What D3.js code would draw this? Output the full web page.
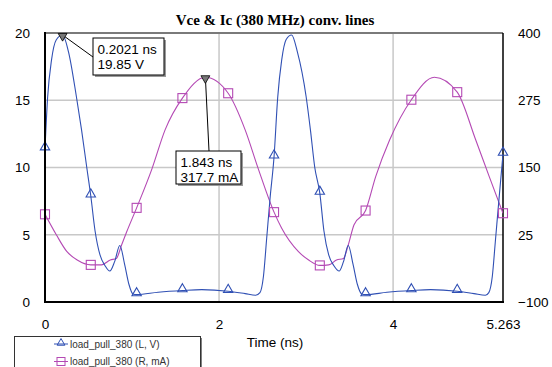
<!DOCTYPE html>
<html><head><meta charset="utf-8">
<script src="https://cdn.jsdelivr.net/npm/d3@7"></script>
<style>body{margin:0;background:#fff}svg{display:block}</style>
</head><body><svg id="c" width="552" height="367"></svg>
<script>
// ---- data ----
const title = "Vce & Ic (380 MHz) conv. lines";
const xTicks = [0, 2, 4, 5.263];
const leftTicks = [0, 5, 10, 15, 20];
const rightTicks = [-100, 25, 150, 275, 400];
const vceT = [0,0.03,0.075,0.13,0.2021,0.27,0.36,0.42,0.48,0.526,0.575,0.632,0.69,0.745,0.80,0.86,0.915,0.965,1.01,1.053,1.30,1.579,1.80,2.105,2.30,2.42,2.47,2.51,2.547,2.586,2.632,2.674,2.72,2.77,2.834,2.90,3.00,3.05,3.10,3.158,3.205,3.26,3.32,3.38,3.43,3.485,3.54,3.59,3.64,3.684,3.93,4.21,4.43,4.737,4.93,5.06,5.10,5.14,5.175,5.215,5.263];
const vceV = [11.4,15.2,18.0,19.5,19.85,18.6,15.3,12.8,10.0,7.9,5.3,3.5,2.7,2.3,3.0,4.2,2.8,1.3,0.6,0.55,0.72,0.85,0.92,0.8,0.62,0.5,0.7,1.9,4.7,7.7,10.8,15.2,18.0,19.5,19.85,18.6,15.3,12.8,10.0,8.1,5.3,3.5,2.7,2.3,3.0,4.2,2.8,1.3,0.6,0.55,0.72,0.85,0.92,0.8,0.62,0.5,0.7,1.9,4.5,7.5,11.0];
const vceMarkT = [0,0.526,1.053,1.579,2.105,2.632,3.158,3.684,4.21,4.737,5.263];
const vceMarkV = [11.4,7.9,0.55,0.85,0.8,10.8,8.1,0.55,0.85,0.8,11.0];
const icT = [0,0.13,0.25,0.37,0.526,0.65,0.75,0.82,0.88,0.94,1.053,1.23,1.38,1.579,1.843,2.105,2.30,2.45,2.632,2.72,2.91,3.03,3.158,3.26,3.35,3.43,3.485,3.55,3.684,3.80,3.96,4.21,4.475,4.737,4.95,5.105,5.263];
const icI = [63,25,-6,-22,-31,-31,-22,-19,6,31,75,148,220,279,317.7,288,220,148,67,37,-6,-22,-32,-31,-22,-19,6,43,70,133,201,276,317.7,290,201,133,65];
const icMarkT = [0,0.526,1.053,1.579,2.105,2.632,3.158,3.684,4.21,4.737,5.263];
const icMarkI = [63,-31,75,279,288,67,-32,70,276,290,65];
const annoV = {t:0.2021, v:19.85, lines:["0.2021 ns","19.85 V"]};
const annoI = {t:1.843, v:317.7, lines:["1.843 ns","317.7 mA"]};
const legendLabels = ["load_pull_380 (L, V)", "load_pull_380 (R, mA)"];
const xLabel = "Time (ns)";

// ---- layout ----
const svg = d3.select("#c");
const L=45, R=503, T=33, B=302;
const blue="#3050b4", pink="#b449b4";
const x = d3.scaleLinear().domain([0,5.263]).range([L,R]);
const yL = d3.scaleLinear().domain([0,20]).range([B,T]);
const yR = d3.scaleLinear().domain([-100,400]).range([B,T]);
const font = "Arial, 'Liberation Sans', sans-serif";

// grid
svg.append("g").selectAll("line").data([5,10,15]).join("line")
  .attr("x1",L).attr("x2",R).attr("y1",d=>yL(d)).attr("y2",d=>yL(d))
  .attr("stroke","#c8c8c8").attr("stroke-width",1.5);
svg.append("g").selectAll("line").data([2,4]).join("line")
  .attr("y1",T).attr("y2",B).attr("x1",d=>x(d)).attr("x2",d=>x(d))
  .attr("stroke","#c8c8c8").attr("stroke-width",1.5);

// frame
svg.append("line").attr("x1",L).attr("x2",R).attr("y1",T).attr("y2",T).attr("stroke","#7a7a7a").attr("stroke-width",2);
svg.append("line").attr("x1",R).attr("x2",R).attr("y1",T).attr("y2",B).attr("stroke","#000").attr("stroke-width",1.5);

// axes tick labels
const lAx = d3.axisLeft(yL).tickValues(leftTicks).tickSize(0).tickPadding(15);
const gl = svg.append("g").attr("transform",`translate(${L},0)`).call(lAx);
const rAx = d3.axisRight(yR).tickValues(rightTicks).tickSize(0).tickPadding(15).tickFormat(d3.format("d"));
const gr = svg.append("g").attr("transform",`translate(${R},0)`).call(rAx);
const bAx = d3.axisBottom(x).tickValues(xTicks).tickSize(0).tickPadding(17).tickFormat(d=>d===5.263?"5.263":d3.format("d")(d));
const gb = svg.append("g").attr("transform",`translate(0,${B})`).call(bAx);
[gl,gr,gb].forEach(g=>{g.select(".domain").remove();g.selectAll("text").attr("font-family",font).attr("font-size",13.5).attr("fill","#000");});

// curves
svg.append("clipPath").attr("id","pc").append("rect").attr("x",L).attr("y",T-3).attr("width",R-L).attr("height",B-T+3);
const lineV = d3.line().x((d,i)=>x(vceT[i])).y((d,i)=>yL(vceV[i])).curve(d3.curveMonotoneX);
const lineI = d3.line().x((d,i)=>x(icT[i])).y((d,i)=>yR(icI[i])).curve(d3.curveMonotoneX);
svg.append("path").attr("d",lineI(icT)).attr("fill","none").attr("stroke",pink).attr("stroke-width",1.1).attr("clip-path","url(#pc)");
svg.append("path").attr("d",lineV(vceT)).attr("fill","none").attr("stroke",blue).attr("stroke-width",1.1).attr("clip-path","url(#pc)");

// markers
const tri = d3.symbol().type(d3.symbolTriangle).size(38);
svg.append("g").selectAll("path").data(vceMarkT).join("path")
  .attr("d",tri).attr("transform",(d,i)=>`translate(${x(d)},${yL(vceMarkV[i])-1.5})`)
  .attr("fill","none").attr("stroke",blue).attr("stroke-width",1.1);
svg.append("g").selectAll("rect").data(icMarkT).join("rect")
  .attr("x",d=>x(d)-4.5).attr("y",(d,i)=>yR(icMarkI[i])-4.5).attr("width",9).attr("height",9)
  .attr("fill","none").attr("stroke",pink).attr("stroke-width",1.1);

// axes lines (left, bottom)
svg.append("line").attr("x1",L).attr("x2",L).attr("y1",T-1).attr("y2",B+1).attr("stroke","#000").attr("stroke-width",2);
svg.append("line").attr("x1",L-1).attr("x2",R+1).attr("y1",B).attr("y2",B).attr("stroke","#000").attr("stroke-width",2);

// annotations
function anno(px,py,bx,by,bw,bh,lx,ly,lines){
  svg.append("line").attr("x1",px).attr("y1",py).attr("x2",lx).attr("y2",ly).attr("stroke","#000").attr("stroke-width",1);
  svg.append("rect").attr("x",bx+2).attr("y",by+2).attr("width",bw).attr("height",bh).attr("fill","#9a9a9a");
  svg.append("rect").attr("x",bx).attr("y",by).attr("width",bw).attr("height",bh).attr("fill","#fff").attr("stroke","#000").attr("stroke-width",1);
  lines.forEach((s,i)=>svg.append("text").attr("x",bx+4.5).attr("y",by+15.5+i*15).attr("font-family",font).attr("font-size",13.5).text(s));
  const inv = d3.symbol().type(d3.symbolTriangle).size(34);
  svg.append("path").attr("d",inv).attr("transform",`translate(${px},${py+1}) rotate(180)`).attr("fill","#777").attr("stroke","#000").attr("stroke-width",0.8);
}
anno(x(annoV.t), yL(annoV.v), 93, 38, 71, 37, 93, 57, annoV.lines);
anno(x(annoI.t), yR(annoI.v), 176, 151, 65, 33, 209, 151, annoI.lines);

// title
svg.append("text").attr("x",275).attr("y",25).attr("text-anchor","middle")
  .attr("font-family","'Liberation Serif','Times New Roman',serif").attr("font-weight","bold").attr("font-size",15).text(title);
// x label
svg.append("text").attr("x",275).attr("y",347).attr("text-anchor","middle").attr("font-family",font).attr("font-size",13.5).text(xLabel);

// legend
svg.append("rect").attr("x",16).attr("y",338).attr("width",186).attr("height",40).attr("fill","#808080");
svg.append("rect").attr("x",14.5).attr("y",336.5).attr("width",186).attr("height",40).attr("fill","#fff").attr("stroke","#333").attr("stroke-width",1);
const lg = svg.append("g");
legendLabels.forEach((s,i)=>{
  const yy = 344 + i*17.5;
  const c = i===0?blue:pink;
  lg.append("line").attr("x1",54).attr("x2",68).attr("y1",yy).attr("y2",yy).attr("stroke",c).attr("stroke-width",1);
  if(i===0) lg.append("path").attr("d",d3.symbol().type(d3.symbolTriangle).size(26)).attr("transform",`translate(61,${yy-1})`).attr("fill","none").attr("stroke",c);
  else lg.append("rect").attr("x",57).attr("y",yy-4).attr("width",8).attr("height",8).attr("fill","none").attr("stroke",c);
  lg.append("text").attr("x",70).attr("y",yy+3.5).attr("font-family",font).attr("font-size",10).attr("fill","#333").text(s);
});
</script></body></html>
